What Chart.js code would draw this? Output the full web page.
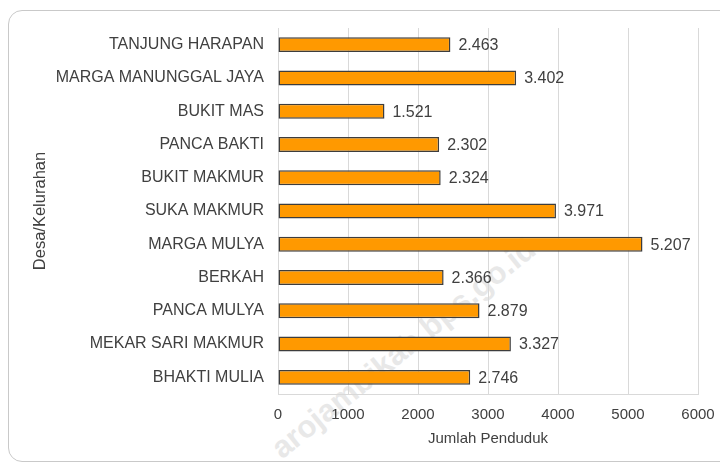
<!DOCTYPE html>
<html>
<head>
<meta charset="utf-8">
<script src="https://cdn.jsdelivr.net/npm/chart.js@4.4.1/dist/chart.umd.min.js"></script>
<style>
  body { margin: 0; background: #fff; }
  #wrap { position: relative; width: 720px; height: 463px; overflow: hidden; }
  #kartu {
    position: absolute; left: 8px; top: 10px; width: 740px; height: 450px;
    border: 1.5px solid #c9c9c9; border-radius: 14px;
  }
  #marca {
    position: absolute; left: 287px; top: 430px; line-height: 1;
    font: bold 31px "Liberation Sans", Arial, sans-serif; color: #e8e8e8;
    transform: rotate(-39deg); transform-origin: 0 100%; white-space: nowrap;
  }
  canvas { position: absolute; left: 0; top: 0; }
</style>
</head>
<body>
<div id="wrap">
  <div id="kartu"></div>
  <div id="marca">arojambikab.bps.go.id</div>
  <canvas id="grafik" width="720" height="463"></canvas>
</div>
<script>
// data desa / kelurahan
const desa = [
    "TANJUNG HARAPAN", "MARGA MANUNGGAL JAYA", "BUKIT MAS", "PANCA BAKTI",
    "BUKIT MAKMUR", "SUKA MAKMUR", "MARGA MULYA", "BERKAH",
    "PANCA MULYA", "MEKAR SARI MAKMUR", "BHAKTI MULIA"
];
const penduduk = [2463, 3402, 1521, 2302, 2324, 3971, 5207, 2366, 2879, 3327, 2746];
const tickX = [0, 1000, 2000, 3000, 4000, 5000, 6000];

const fuente = "'Liberation Sans', Arial, sans-serif";
const colorTexto = "#404040";

// formato ribuan pakai titik: 2463 -> 2.463
const formatRibuan = (v) => String(v).replace(/\B(?=(\d{3})+(?!\d))/g, ".");

// label nilai di ujung batang
const labelNilai = {
    id: "labelNilai",
    afterDatasetsDraw(chart) {
        const ctx = chart.ctx;
        const meta = chart.getDatasetMeta(0);
        ctx.save();
        ctx.font = "16px " + fuente;
        ctx.fillStyle = colorTexto;
        ctx.textAlign = "left";
        ctx.textBaseline = "middle";
        meta.data.forEach((bar, i) => {
            ctx.fillText(formatRibuan(penduduk[i]), bar.x + 8, bar.y + 1);
        });
        ctx.restore();
    }
};

new Chart(document.getElementById("grafik").getContext("2d"), {
    type: "bar",
    data: {
        labels: desa,
        datasets: [{
            data: penduduk,
            backgroundColor: "#ff9900",
            borderColor: "#3d3d3d",
            borderWidth: 1.5,
            borderSkipped: false,
            barPercentage: 0.45,
            categoryPercentage: 1
        }]
    },
    options: {
        indexAxis: "y",
        responsive: false,
        animation: false,
        layout: { padding: { left: 31, top: 28, right: 22, bottom: 15 } },
        plugins: { legend: { display: false }, tooltip: { enabled: false } },
        scales: {
            x: {
                min: 0, max: 6000,
                afterBuildTicks: (s) => { s.ticks = tickX.map(v => ({ value: v })); },
                afterFit: (s) => { s.height = 463 - 394 - 15; s.paddingLeft = 0; s.paddingRight = 0; },
                grid: { color: "#d9d9d9", lineWidth: 1, drawTicks: false },
                border: { color: "#d9d9d9" },
                ticks: {
                    color: colorTexto, font: { family: fuente, size: 15 }, padding: 12,
                    callback: (v) => String(v)
                },
                title: {
                    display: true, text: "Jumlah Penduduk", color: colorTexto,
                    font: { family: fuente, size: 15 }, padding: { top: 0, bottom: 0 }
                }
            },
            y: {
                afterFit: (s) => { s.width = 278 - 31; },
                grid: { display: false, drawTicks: false },
                border: { display: false },
                ticks: { color: colorTexto, font: { family: fuente, size: 16 }, padding: 14 },
                title: {
                    display: true, text: "Desa/Kelurahan", color: colorTexto,
                    font: { family: fuente, size: 16.5 }, padding: { top: 0, bottom: 0 }
                }
            }
        }
    },
    plugins: [labelNilai]
});
</script>
</body>
</html>
